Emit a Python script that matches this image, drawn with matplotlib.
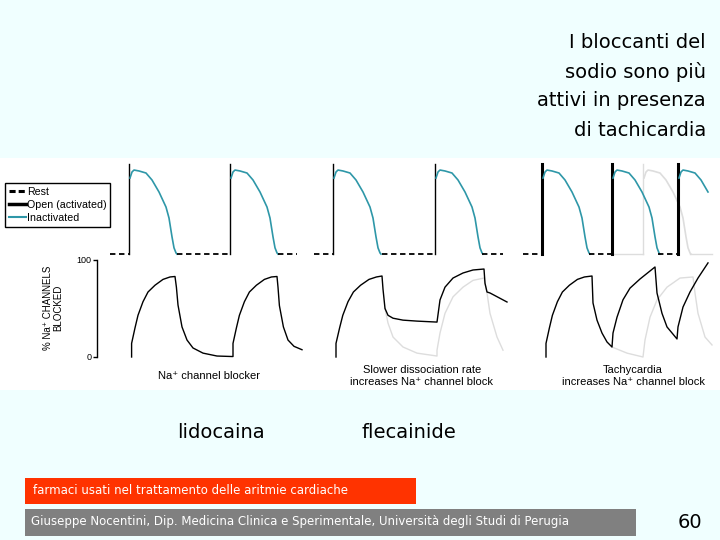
import numpy as np
import matplotlib.pyplot as plt
from matplotlib.lines import Line2D
from matplotlib.patches import Rectangle

# ---- data (time in ms, voltage in mV, block in %) ----
rest_v = -85
peak_v = 30
# action potential shape after the upstroke (inactivated phase)
ap_t = [5, 15, 25, 50, 85, 115, 150, 185, 200, 215, 225, 235, 240]
ap_v = [12, 19.7, 22.2, 21, 18.4, 9.5, -5.8, -25, -39, -63, -77, -83.5, -85]

ap_onsets = [160, 665, 1180, 1690, 2225, 2575, 2905]
tachy_onsets = [2225, 2575, 2905]
ghost_onsets = [2730]
trace_end = 3055

rest_segments = [(65, 160), (400, 665), (905, 1000), (1085, 1180), (1425, 1690),
                 (1925, 2030), (2130, 2225), (2460, 2575), (2805, 2905)]
ghost_rest = [(2575, 2730), (2965, 3075)]

blk1_t = [173, 173, 190, 205, 230, 255, 290, 330, 365, 390, 397, 405, 425, 450, 480, 530, 600, 675,
          680, 680, 697, 712, 737, 762, 797, 837, 872, 900, 905, 912, 932, 955, 985, 1025]
blk1_p = [0, 14, 30, 43, 57, 67, 74, 80, 82.5, 83, 72, 53.6, 31, 17.5, 9.3, 4, 1, 0.5,
          0.5, 14, 30, 43, 57, 67, 74, 80, 82.5, 83, 72, 53, 31, 17.5, 11, 7.5]

blk2_t = [1195, 1195, 1213, 1229, 1255, 1282, 1318, 1360, 1397, 1425, 1430, 1440, 1455, 1480,
          1530, 1600, 1700, 1715, 1740, 1780, 1830, 1880, 1935, 1940, 1950, 1965, 2050]
blk2_p = [0, 14, 30, 43, 57, 67, 74, 80, 82.5, 83.5, 70, 50, 43, 40,
          38, 37, 36, 58.8, 72, 81.4, 86.6, 89.7, 90.7, 76, 67, 66, 56.7]

blk2_gray_t = [1440, 1455, 1480, 1530, 1600, 1700, 1700, 1715, 1740, 1780, 1830, 1880, 1935,
               1950, 1965, 2000, 2030]
blk2_gray_p = [50, 35, 20.6, 10.3, 4, 1, 7, 24.7, 45, 62, 72, 79, 81.4,
               66, 45, 20.6, 7]

blk3_t = [2245, 2245, 2262, 2277, 2302, 2327, 2362, 2402, 2437, 2475, 2480, 2500, 2525, 2550,
          2575, 2580, 2600, 2630, 2665, 2715, 2790, 2800, 2825, 2850, 2900,
          2905, 2930, 2965, 3005, 3055]
blk3_p = [0, 14, 30, 43, 57, 67, 74, 80, 82.5, 83.5, 55.7, 38, 24.7, 15.5,
          10.3, 24.7, 41, 59, 71, 80.4, 92.8, 66, 45, 31, 18.6,
          31, 51.5, 67, 81.4, 97]

blk3_gray_t = [2575, 2650, 2730, 2740, 2765, 2800, 2850, 2915, 2980, 2990, 3005, 3040, 3075]
blk3_gray_p = [10.3, 4, 0, 17.5, 41, 58.8, 72, 81.4, 82.5, 66, 45, 20.6, 12.4]

legend_labels = ['Rest', 'Open (activated)', 'Inactivated']
title_lines = ['I bloccanti del', 'sodio sono più', 'attivi in presenza', 'di tachicardia']
drug_labels = ['lidocaina', 'flecainide']
panel_labels = ['Na⁺ channel blocker',
                'Slower dissociation rate\nincreases Na⁺ channel block',
                'Tachycardia\nincreases Na⁺ channel block']

# ---- styles ----
W, H = 720, 540
BG = '#F0FFFF'
TEAL = '#2E97A8'
GHOST = '#DDDDDD'
SANS = ['Liberation Sans', 'DejaVu Sans']


def fx(px):
    return px / W


def fy(py):
    return 1 - py / H


fig = plt.figure(figsize=(7.2, 5.4), dpi=100, facecolor=BG)
fig.add_artist(Rectangle((0, fy(390)), 1, (390 - 158) / H, transform=fig.transFigure,
                         facecolor='white', edgecolor='none', zorder=0))

# ---- action potentials ----
ax_ap = fig.add_axes([fx(97), fy(258), fx(720) - fx(97), (258 - 160) / H])
ax_ap.set_xlim(0, 3115)
ax_ap.set_ylim(-90, 35)
ax_ap.axis('off')


def draw_ap(ax, t0, up_color, body_color, up_lw, z):
    ax.plot([t0, t0], [rest_v, peak_v], color=up_color, lw=up_lw, zorder=z, clip_on=False)
    tt = [t0 + t for t in ap_t if t0 + t <= trace_end]
    vv = [v for t, v in zip(ap_t, ap_v) if t0 + t <= trace_end]
    if t0 + ap_t[-1] > trace_end:
        tt.append(trace_end)
        vv.append(np.interp(trace_end - t0, ap_t, ap_v))
    ax.plot(tt, vv, color=body_color, lw=1.2, zorder=z, clip_on=False)


for t0 in ghost_onsets:
    draw_ap(ax_ap, t0, GHOST, GHOST, 1, 1)
for a, b in ghost_rest:
    ax_ap.plot([a, b], [rest_v, rest_v], color=GHOST, lw=1, zorder=1, clip_on=False)
for t0 in ap_onsets:
    draw_ap(ax_ap, t0, 'k', TEAL, 2.2 if t0 in tachy_onsets else 1, 3)
for a, b in rest_segments:
    ax_ap.plot([a, b], [rest_v, rest_v], color='k', lw=1.3, ls=(0, (3, 2)),
               zorder=3, clip_on=False)

# ---- channel block ----
ax_b = fig.add_axes([fx(97), fy(357), fx(720) - fx(97), (357 - 260) / H])
ax_b.set_xlim(0, 3115)
ax_b.set_ylim(0, 100)
ax_b.patch.set_alpha(0)
for s in ['top', 'right', 'bottom']:
    ax_b.spines[s].set_visible(False)
ax_b.spines['left'].set_linewidth(1)
ax_b.set_xticks([])
ax_b.set_yticks([0, 100])
ax_b.set_yticklabels(['0', '100'], fontsize=6.5, family=SANS)
ax_b.tick_params(axis='y', length=3, width=1, pad=1)

for t, p in [(blk2_gray_t, blk2_gray_p), (blk3_gray_t, blk3_gray_p)]:
    ax_b.plot(t, p, color=GHOST, lw=1, clip_on=False, zorder=1)
for t, p in [(blk1_t, blk1_p), (blk2_t, blk2_p), (blk3_t, blk3_p)]:
    ax_b.plot(t, p, color='k', lw=1, clip_on=False, zorder=3)

fig.text(fx(53), fy(308), '% Na⁺ CHANNELS\nBLOCKED', rotation=90, ha='center', va='center',
         multialignment='center', fontsize=7, family=SANS, linespacing=1.0)

# legend
handles = [Line2D([], [], color='k', lw=2.2, ls=(0, (2, 1))),
           Line2D([], [], color='k', lw=2.5),
           Line2D([], [], color=TEAL, lw=1.5)]
leg = fig.legend(handles, legend_labels, loc='upper left', bbox_to_anchor=(fx(5), fy(183)),
                 borderaxespad=0, fancybox=False, framealpha=1, edgecolor='k',
                 prop={'family': SANS, 'size': 7.7}, handlelength=1.6, handletextpad=0.1,
                 labelspacing=0.3, borderpad=0.35)
leg.get_frame().set_linewidth(1)

# panel captions
fig.text(fx(209), fy(376), panel_labels[0], ha='center', va='center', fontsize=8, family=SANS)
fig.text(fx(422), fy(376), panel_labels[1], ha='center', va='center', fontsize=8,
         family=SANS, linespacing=1.25)
fig.text(fx(633), fy(376), panel_labels[2], ha='center', va='center', fontsize=8,
         family=SANS, linespacing=1.25)

# title
for i, line in enumerate(title_lines):
    fig.text(fx(706), fy(43 + 29 * i), line, ha='right', va='center', fontsize=14,
             family='DejaVu Sans')

fig.text(fx(221), fy(432), drug_labels[0], ha='center', va='center', fontsize=14)
fig.text(fx(409), fy(432), drug_labels[1], ha='center', va='center', fontsize=14)

# footer
fig.add_artist(Rectangle((fx(25), fy(504)), fx(416) - fx(25), 26 / H, transform=fig.transFigure,
                         facecolor='#FF3300', edgecolor='none'))
fig.text(fx(33), fy(491), 'farmaci usati nel trattamento delle aritmie cardiache',
         ha='left', va='center', fontsize=8.5, color='white')
fig.add_artist(Rectangle((fx(25), fy(536)), fx(636) - fx(25), 27 / H, transform=fig.transFigure,
                         facecolor='#808080', edgecolor='none'))
fig.text(fx(31), fy(522), 'Giuseppe Nocentini, Dip. Medicina Clinica e Sperimentale, '
         'Università degli Studi di Perugia', ha='left', va='center', fontsize=8.5, color='white')
fig.text(fx(690), fy(522), '60', ha='center', va='center', fontsize=14)

fig.savefig('out.png', dpi=100, facecolor=fig.get_facecolor())
